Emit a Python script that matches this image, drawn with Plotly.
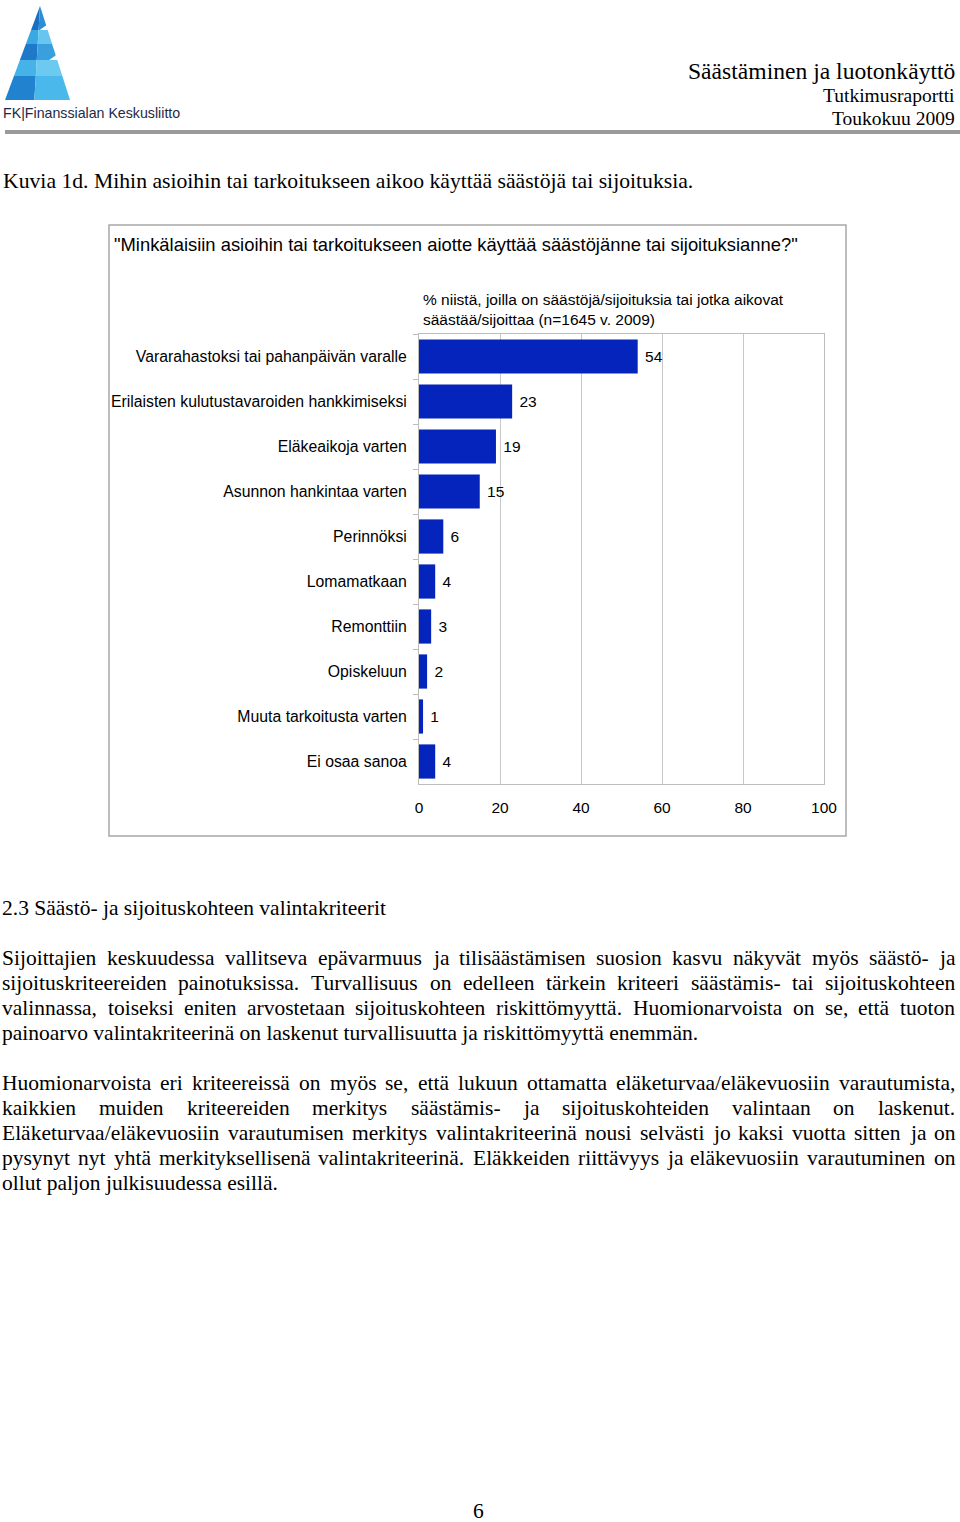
import plotly.graph_objects as go

# ---------------- data ----------------
categories = [
    "Vararahastoksi tai pahanpäivän varalle",
    "Erilaisten kulutustavaroiden hankkimiseksi",
    "Eläkeaikoja varten",
    "Asunnon hankintaa varten",
    "Perinnöksi",
    "Lomamatkaan",
    "Remonttiin",
    "Opiskeluun",
    "Muuta tarkoitusta varten",
    "Ei osaa sanoa",
]
values = [54, 23, 19, 15, 6, 4, 3, 2, 1, 4]
x_ticks = [0, 20, 40, 60, 80, 100]

header_title = "Säästäminen ja luotonkäyttö"
header_sub1 = "Tutkimusraportti"
header_sub2 = "Toukokuu 2009"
logo_text = "FK|Finanssialan Keskusliitto"
figure_caption = "Kuvia 1d. Mihin asioihin tai tarkoitukseen aikoo käyttää säästöjä tai sijoituksia."
chart_question = '"Minkälaisiin asioihin tai tarkoitukseen aiotte käyttää säästöjänne tai sijoituksianne?"'
chart_subtitle = "% niistä, joilla on säästöjä/sijoituksia tai jotka aikovat<br>säästää/sijoittaa (n=1645 v. 2009)"
section_heading = "2.3 Säästö- ja sijoituskohteen valintakriteerit"
paragraph1 = [
    "Sijoittajien keskuudessa vallitseva epävarmuus ja tilisäästämisen suosion kasvu näkyvät myös säästö- ja",
    "sijoituskriteereiden painotuksissa. Turvallisuus on edelleen tärkein kriteeri säästämis- tai sijoituskohteen",
    "valinnassa, toiseksi eniten arvostetaan sijoituskohteen riskittömyyttä. Huomionarvoista on se, että tuoton",
    "painoarvo valintakriteerinä on laskenut turvallisuutta ja riskittömyyttä enemmän.",
]
paragraph2 = [
    "Huomionarvoista eri kriteereissä on myös se, että lukuun ottamatta eläketurvaa/eläkevuosiin varautumista,",
    "kaikkien muiden kriteereiden merkitys säästämis- ja sijoituskohteiden valintaan on laskenut.",
    "Eläketurvaa/eläkevuosiin varautumisen merkitys valintakriteerinä nousi selvästi jo kaksi vuotta sitten ja on",
    "pysynyt nyt yhtä merkityksellisenä valintakriteerinä. Eläkkeiden riittävyys ja eläkevuosiin varautuminen on",
    "ollut paljon julkisuudessa esillä.",
]
page_number = "6"

# ---------------- layout helpers ----------------
W, H = 960, 1522
SERIF = "Liberation Serif, Times New Roman, serif"
SANS = "Liberation Sans, Arial, sans-serif"


def px(x):
    return x / W


def py(y):
    return 1 - y / H


# Times-Roman widths (per 1000 em) for justification
TW = {
    'a': 444, 'b': 500, 'c': 444, 'd': 500, 'e': 444, 'f': 333, 'g': 500, 'h': 500,
    'i': 278, 'j': 278, 'k': 500, 'l': 278, 'm': 778, 'n': 500, 'o': 500, 'p': 500,
    'q': 500, 'r': 333, 's': 389, 't': 278, 'u': 500, 'v': 500, 'w': 722, 'x': 500,
    'y': 500, 'z': 444, 'ä': 444, 'ö': 500, '.': 250, ',': 250, '-': 333, '/': 278,
    'A': 722, 'B': 667, 'C': 667, 'D': 722, 'E': 611, 'F': 556, 'G': 722, 'H': 722,
    'I': 333, 'J': 389, 'K': 722, 'L': 611, 'M': 889, 'N': 722, 'O': 722, 'P': 556,
    'R': 667, 'S': 556, 'T': 611, 'U': 722, 'V': 722, 'Y': 722, ' ': 250,
}


def text_width(s, size):
    return sum(TW.get(c, 500) for c in s) * size / 1000.0


annotations = []
shapes = []


def add_text(text, x, y, size, family=SERIF, color="black", xanchor="left", align="left"):
    annotations.append(dict(
        text=text, x=px(x), y=py(y), xref="paper", yref="paper",
        xanchor=xanchor, yanchor="middle", showarrow=False, align=align,
        font=dict(size=size, family=family, color=color),
        borderpad=0, borderwidth=0,
    ))


def add_justified(line, y, size, left=2, right=955, justify=True):
    if not justify:
        add_text(line, left, y, size)
        return
    words = line.split(" ")
    widths = [text_width(w, size) for w in words]
    gap = (right - left - sum(widths)) / max(len(words) - 1, 1)
    x = left
    for w, wd in zip(words, widths):
        add_text(w, x, y, size)
        x += wd + gap


# ---------------- header ----------------
add_text(header_title, 955, 71, 23.6, xanchor="right")
add_text(header_sub1, 955, 96, 19.5, xanchor="right")
add_text(header_sub2, 955, 118, 19.5, xanchor="right")
shapes.append(dict(type="line", xref="paper", yref="paper",
                   x0=px(5), x1=px(960), y0=py(132), y1=py(132),
                   line=dict(color="#9a9a9a", width=4)))


# logo (decorative)
def poly(points, color):
    d = "M " + " L ".join(f"{px(a):.5f},{py(b):.5f}" for a, b in points) + " Z"
    shapes.append(dict(type="path", xref="paper", yref="paper", path=d,
                       fillcolor=color, line=dict(width=0)))


def edge_x(y, left=True):
    # triangle edges: peak (40,6), base (5,100)-(70,100)
    t = (y - 6) / 94.0
    return 40 + t * (5 - 40) if left else 40 + t * (70 - 40)


bands = [(6, 30, "#1a6fc0", "#2b8fd6"), (30, 44, "#3aa8e2", "#66c6ef"),
         (44, 60, "#1f78c8", "#3aa0dd"), (60, 76, "#45b3e8", "#6ccaf0"),
         (76, 100, "#2183cf", "#4ab8ea")]
for y0, y1, cl, cr in bands:
    xm0 = 40 - (y0 - 6) * 0.06
    xm1 = 40 - (y1 - 6) * 0.06
    poly([(edge_x(y0), y0), (xm0, y0), (xm1, y1), (edge_x(y1), y1)], cl)
    poly([(xm0, y0), (edge_x(y0, False), y0), (edge_x(y1, False), y1), (xm1, y1)], cr)
# notches forming the stepped "E"
for yn in (30, 60):
    xe = edge_x(yn, False)
    poly([(xe - 8, yn), (xe + 6, yn - 10), (xe + 6, yn)], "white")
add_text(logo_text, 3, 113, 14.2, family=SANS, color="#1c2a4a")

# ---------------- captions ----------------
add_text(figure_caption, 3, 181, 21.7)

# chart frame
shapes.append(dict(type="rect", xref="paper", yref="paper",
                   x0=px(109), x1=px(846), y0=py(836), y1=py(225),
                   line=dict(color="#a8a8a8", width=1.5), fillcolor="rgba(0,0,0,0)"))
add_text(chart_question, 114, 244, 18.4, family=SANS)
annotations.append(dict(
    text=chart_subtitle, x=px(423), y=py(310), xref="paper", yref="paper",
    xanchor="left", yanchor="middle", showarrow=False, align="left",
    font=dict(size=15.5, family=SANS, color="black"), borderpad=0, borderwidth=0,
))

# ---------------- body text ----------------
add_text(section_heading, 2, 908, 21.5)
for i, line in enumerate(paragraph1):
    add_justified(line, 958 + 25 * i, 21.5, justify=(i < len(paragraph1) - 1))
for i, line in enumerate(paragraph2):
    add_justified(line, 1083 + 25 * i, 21.5, justify=(i < len(paragraph2) - 1))
add_text(page_number, 478, 1511, 21.5, xanchor="center")

# ---------------- chart ----------------
fig = go.Figure(go.Bar(
    x=values, y=categories, orientation="h",
    marker=dict(color="#0424bb", line=dict(width=0)),
    width=0.76,
    text=[" " + str(v) for v in values], textposition="outside",
    textfont=dict(size=15.5, family=SANS, color="black"),
    cliponaxis=False,
))

fig.update_layout(
    template="none",
    width=W, height=H, autosize=False,
    margin=dict(l=0, r=0, t=0, b=0, pad=0, autoexpand=False),
    paper_bgcolor="white", plot_bgcolor="white",
    showlegend=False,
    font=dict(family=SANS, color="black"),
    xaxis=dict(
        domain=[px(419), px(824)],
        range=[0, 100], tickvals=x_ticks, automargin=False,
        showgrid=True, gridcolor="#c8c8c8", gridwidth=1,
        showline=True, linecolor="#bdbdbd", mirror=True,
        zeroline=False, ticks="", ticklabelstandoff=9,
        tickfont=dict(size=15.5, family=SANS, color="black"),
        fixedrange=True,
    ),
    yaxis=dict(
        domain=[py(784), py(334)], automargin=False,
        autorange="reversed", type="category",
        showgrid=False, showline=True, linecolor="#bdbdbd", mirror=True,
        ticks="outside", tickson="boundaries", ticklen=5, tickcolor="#bdbdbd",
        ticklabelstandoff=8,
        tickfont=dict(size=15.8, family=SANS, color="black"),
        fixedrange=True,
    ),
    annotations=annotations,
    shapes=shapes,
)

fig.write_html(
    "out.html",
    config={"displayModeBar": False, "responsive": False},
    post_script="document.body.style.margin='0';document.body.style.overflow='hidden';"
                "document.documentElement.style.overflow='hidden';",
)
